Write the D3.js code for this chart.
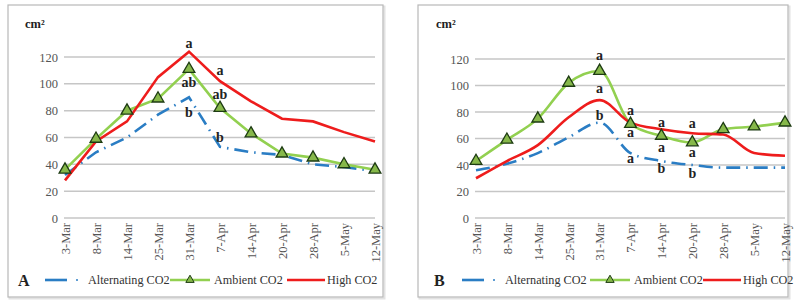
<!DOCTYPE html>
<html><head><meta charset="utf-8">
<script src="https://cdn.jsdelivr.net/npm/d3@7"></script>
</head>
<body style="margin:0;padding:0;background:#fff"><svg id="c" width="799" height="306" style="display:block"></svg>
<script>
const categories = ["3-Mar","8-Mar","14-Mar","25-Mar","31-Mar","7-Apr","14-Apr","20-Apr","28-Apr","5-May","12-May"];
const yTicks = [0,20,40,60,80,100,120];
const seriesNames = ["Alternating CO2","Ambient CO2","High CO2"];

// Panel A
const altA  = [32, 49, 60, 77, 90, 53, 49, 47, 40, 38, 35];
const ambA  = [36, 59, 80, 89, 111, 82, 63, 48, 45, 40, 36];
const highA = [28, 57, 72, 105, 124, 102, 87, 74, 72, 64, 57];
// Panel B
const altB  = [36, 41, 49, 61, 72, 49, 43, 40, 38, 38, 38];
const ambB  = [43, 59, 75, 102, 111, 71, 62, 57, 67, 69, 72];
const highB = [30, 43, 55, 76, 89, 72, 67, 64, 63, 49, 47];

// significance letters: [category, label, value position]
const lettersA = [["31-Mar","a",130],["31-Mar","ab",101],["31-Mar","b",79],
                  ["7-Apr","a",110],["7-Apr","ab",92],["7-Apr","b",60]];
const lettersB = [["31-Mar","a",123],["31-Mar","a",98],["31-Mar","b",78],
                  ["7-Apr","a",81.5],["7-Apr","a",65],["7-Apr","a",45],
                  ["14-Apr","a",72.5],["14-Apr","a",53.6],["14-Apr","b",37.7],
                  ["20-Apr","a",71.7],["20-Apr","a",50],["20-Apr","b",34]];

const FONT = "Liberation Serif, Times New Roman, serif";
const svg = d3.select("#c");
const COL = {alt:"#2a7dc4", amb:"#92d050", high:"#ee1c1c"};

function panel(o){
  const g = svg.append("g");
  g.append("rect").attr("x",o.bx+1.5).attr("y",o.by+1.5).attr("width",o.bw).attr("height",o.bh)
    .attr("fill","none").attr("stroke","#e2e2e2").attr("stroke-width",2);
  g.append("rect").attr("x",o.bx).attr("y",o.by).attr("width",o.bw).attr("height",o.bh)
    .attr("fill","#fff").attr("stroke","#b8b8b8").attr("stroke-width",1.2);

  const x = d3.scalePoint().domain(categories).range([o.x0,o.x1]);
  const y = d3.scaleLinear().domain([0,120]).range([o.y0,o.y1]);

  g.selectAll("line.grid").data(yTicks).enter().append("line")
    .attr("x1",o.x0-1).attr("x2",o.x1).attr("y1",d=>y(d)).attr("y2",d=>y(d))
    .attr("stroke","#c6c6c6").attr("stroke-width",1.5);

  const ya = g.append("g").attr("transform",`translate(${o.x0-4},0)`)
    .call(d3.axisLeft(y).tickValues(yTicks).tickSize(0).tickPadding(3));
  ya.attr("font-family",FONT);
  ya.select(".domain").remove();
  ya.selectAll("text").attr("font-family",FONT).attr("font-size",12.5).attr("fill","#555");

  const xa = g.append("g").attr("transform",`translate(0,${o.y0})`)
    .call(d3.axisBottom(x).tickSize(0));
  xa.attr("font-family",FONT);
  xa.select(".domain").remove();
  xa.selectAll("text").attr("font-family",FONT).attr("font-size",12.5).attr("fill","#555")
    .attr("transform","rotate(-90)").attr("text-anchor","end").attr("x",-5).attr("y",0).attr("dy","0.35em");

  const line = d3.line().x((d,i)=>x(categories[i])).y(d=>y(d)).curve(o.curve);

  g.append("path").datum(o.alt).attr("d",line).attr("fill","none").attr("stroke",COL.alt)
    .attr("stroke-width",2.6).attr("stroke-dasharray","14,6,1.5,6");
  g.append("path").datum(o.amb).attr("d",line).attr("fill","none").attr("stroke",COL.amb).attr("stroke-width",2.6);
  g.append("path").datum(o.high).attr("d",line).attr("fill","none").attr("stroke",COL.high).attr("stroke-width",2.6);

  const tri = d3.symbol().type(d3.symbolTriangle).size(60);
  g.selectAll("path.tri").data(o.amb).enter().append("path")
    .attr("d",tri).attr("transform",(d,i)=>`translate(${x(categories[i])},${y(d)})`)
    .attr("fill","#86b84a").attr("stroke","#1d3b12").attr("stroke-width",1.3);

  g.selectAll("text.let").data(o.letters).enter().append("text")
    .attr("x",d=>x(d[0])).attr("y",d=>y(d[2])).attr("dy","0.35em")
    .attr("text-anchor","middle").attr("font-family",FONT).attr("font-size",14).attr("font-weight","bold").attr("fill","#222")
    .text(d=>d[1]);

  g.append("text").attr("x",o.ux).attr("y",28).attr("font-family",FONT).attr("font-size",12.5).attr("font-weight","bold").attr("fill","#222").text("cm²");

  const ly = 280;
  const lg = g.append("g").attr("font-family",FONT);
  lg.append("text").attr("x",o.lx).attr("y",ly).attr("dy","0.35em").attr("font-family",FONT).attr("font-size",16).attr("font-weight","bold").attr("fill","#222").text(o.tag);
  const L = o.leg;
  lg.append("line").attr("x1",L[0]).attr("x2",L[0]+22).attr("y1",ly).attr("y2",ly).attr("stroke",COL.alt).attr("stroke-width",2.6);
  lg.append("circle").attr("cx",L[0]+32).attr("cy",ly).attr("r",1).attr("fill",COL.alt);
  lg.append("text").attr("x",L[0]+43).attr("y",ly).attr("dy","0.35em").attr("font-family",FONT).attr("font-size",12.2).attr("fill","#333").text(seriesNames[0]);
  lg.append("line").attr("x1",L[1]).attr("x2",L[1]+40).attr("y1",ly).attr("y2",ly).attr("stroke",COL.amb).attr("stroke-width",2.6);
  lg.append("path").attr("d",d3.symbol().type(d3.symbolTriangle).size(30)).attr("transform",`translate(${L[1]+20},${ly})`)
    .attr("fill","#86b84a").attr("stroke","#1d3b12").attr("stroke-width",1);
  lg.append("text").attr("x",L[1]+44).attr("y",ly).attr("dy","0.35em").attr("font-family",FONT).attr("font-size",12.2).attr("fill","#333").text(seriesNames[1]);
  lg.append("line").attr("x1",L[2]).attr("x2",L[2]+38).attr("y1",ly).attr("y2",ly).attr("stroke",COL.high).attr("stroke-width",2.6);
  lg.append("text").attr("x",L[2]+40).attr("y",ly).attr("dy","0.35em").attr("font-family",FONT).attr("font-size",12.2).attr("fill","#333").text(seriesNames[2]);
}

panel({bx:8,by:5,bw:375,bh:292,x0:65,x1:375,y0:218,y1:57,ux:25,
  alt:altA,amb:ambA,high:highA,letters:lettersA,curve:d3.curveLinear,tag:"A",lx:18,leg:[45,170,287]});
panel({bx:418,by:5,bw:370,bh:292,x0:476,x1:785,y0:218,y1:59,ux:436,
  alt:altB,amb:ambB,high:highB,letters:lettersB,curve:d3.curveMonotoneX,tag:"B",lx:434,leg:[462,590,703]});
</script></body></html>
